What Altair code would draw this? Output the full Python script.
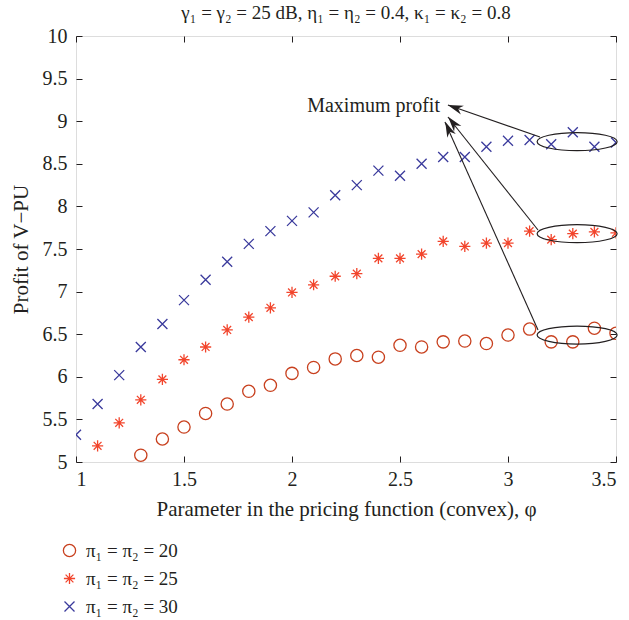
import altair as alt
import pandas as pd

# ---------------- data ----------------
phi_20 = [1.3, 1.4, 1.5, 1.6, 1.7, 1.8, 1.9, 2.0, 2.1, 2.2, 2.3, 2.4,
          2.5, 2.6, 2.7, 2.8, 2.9, 3.0, 3.1, 3.2, 3.3, 3.4, 3.5]
profit_20 = [5.08, 5.27, 5.41, 5.57, 5.68, 5.83, 5.90, 6.04, 6.11, 6.21, 6.25, 6.23,
             6.37, 6.35, 6.41, 6.42, 6.39, 6.49, 6.56, 6.41, 6.41, 6.57, 6.51]

phi_25 = [1.1, 1.2, 1.3, 1.4, 1.5, 1.6, 1.7, 1.8, 1.9, 2.0, 2.1, 2.2, 2.3,
          2.4, 2.5, 2.6, 2.7, 2.8, 2.9, 3.0, 3.1, 3.2, 3.3, 3.4, 3.5]
profit_25 = [5.19, 5.46, 5.73, 5.97, 6.20, 6.35, 6.55, 6.70, 6.81, 6.99, 7.08, 7.18, 7.21,
             7.39, 7.39, 7.44, 7.59, 7.53, 7.57, 7.57, 7.71, 7.61, 7.68, 7.70, 7.69]

phi_30 = [1.0, 1.1, 1.2, 1.3, 1.4, 1.5, 1.6, 1.7, 1.8, 1.9, 2.0, 2.1, 2.2,
          2.3, 2.4, 2.5, 2.6, 2.7, 2.8, 2.9, 3.0, 3.1, 3.2, 3.3, 3.4, 3.5]
profit_30 = [5.32, 5.68, 6.02, 6.35, 6.62, 6.90, 7.14, 7.35, 7.56, 7.71, 7.83, 7.93, 8.13,
             8.25, 8.42, 8.36, 8.50, 8.58, 8.58, 8.70, 8.77, 8.78, 8.73, 8.87, 8.70, 8.75]

series_names = ["π₁ = π₂ = 20", "π₁ = π₂ = 25", "π₁ = π₂ = 30"]
x_ticks = [1, 1.5, 2, 2.5, 3, 3.5]
y_ticks = [5, 5.5, 6, 6.5, 7, 7.5, 8, 8.5, 9, 9.5, 10]

# annotation: ellipses around the maxima, arrows to the label
ellipse_phi = [3.32, 3.32, 3.32]
ellipse_profit = [8.76, 7.68, 6.49]
arrow_start_phi = [3.148, 3.139, 3.139]
arrow_start_profit = [8.815, 7.723, 6.549]
arrow_tip_phi = [2.722, 2.722, 2.708]
arrow_tip_profit = [9.19, 9.049, 8.99]
head_phi = [2.755, 2.745, 2.724]
head_profit = [9.16, 8.98, 8.91]
head_angle = [289.2, 321.5, 335.9]
label_text = ["Maximum profit"]
label_phi = [2.685]
label_profit = [9.18]

# ---------------- styles ----------------
FONT = "Liberation Serif"
INK = "#231f20"
colors = ["#c8401e", "#f2452c", "#3a3a9c"]
ASTERISK = "M0,-1L0,1M-1,0L1,0M-0.7,-0.7L0.7,0.7M-0.7,0.7L0.7,-0.7"
CROSS = "M-1,-1L1,1M-1,1L1,-1"
shapes = ["circle", ASTERISK, CROSS]
ELLIPSE = ("M-1,0C-1,-0.124,-0.552,-0.225,0,-0.225C0.552,-0.225,1,-0.124,1,0"
           "C1,0.124,0.552,0.225,0,0.225C-0.552,0.225,-1,0.124,-1,0Z")
ARROW = "M0,-1L0.6,1L0,0.4L-0.6,1Z"

rows = []
for name, ph, pr in [(series_names[0], phi_20, profit_20),
                     (series_names[1], phi_25, profit_25),
                     (series_names[2], phi_30, profit_30)]:
    for a, b in zip(ph, pr):
        rows.append({"phi": a, "profit": b, "series": name})
df = pd.DataFrame(rows)

ell_df = pd.DataFrame({"phi": ellipse_phi, "profit": ellipse_profit})
arr_df = pd.DataFrame({"phi": arrow_start_phi, "profit": arrow_start_profit,
                       "phi2": arrow_tip_phi, "profit2": arrow_tip_profit})
head_df = pd.DataFrame({"phi": head_phi, "profit": head_profit, "ang": head_angle})
lab_df = pd.DataFrame({"phi": label_phi, "profit": label_profit, "t": label_text})

xscale = alt.Scale(domain=[1, 3.5], nice=False, zero=False)
yscale = alt.Scale(domain=[5, 10], nice=False, zero=False)

x_axis = alt.Axis(values=x_ticks, format="~g", offset=-6, domain=False, tickSize=6,
                  tickColor=INK, tickWidth=1, grid=False,
                  labelFont=FONT, labelFontSize=20, labelColor=INK, labelPadding=7,
                  title="Parameter in the pricing function (convex), φ",
                  titleFont=FONT, titleFontSize=21, titleFontWeight="normal",
                  titleColor=INK, titlePadding=9)
y_axis = alt.Axis(values=y_ticks, format="~g", offset=-6, domain=False, tickSize=6,
                  tickColor=INK, tickWidth=1, grid=False,
                  labelFont=FONT, labelFontSize=20, labelColor=INK, labelPadding=9,
                  title="Profit of V−PU",
                  titleFont=FONT, titleFontSize=21, titleFontWeight="normal",
                  titleColor=INK, titlePadding=11)
x_top = alt.Axis(values=x_ticks, orient="top", offset=-6, domain=False, tickSize=6,
                 tickColor=INK, labels=False, title=None, grid=False)
y_right = alt.Axis(values=y_ticks, orient="right", offset=-6, domain=False, tickSize=6,
                   tickColor=INK, labels=False, title=None, grid=False)

points = alt.Chart(df).mark_point(filled=False, strokeWidth=1.3, clip=True, opacity=1).encode(
    x=alt.X("phi:Q", scale=xscale, axis=x_axis),
    y=alt.Y("profit:Q", scale=yscale, axis=y_axis),
    color=alt.Color("series:N", scale=alt.Scale(domain=series_names, range=colors),
                    legend=alt.Legend(orient="none", legendX=-16, legendY=505, title=None,
                                      labelFont=FONT, labelFontSize=19, labelColor=INK,
                                      symbolSize=70, symbolStrokeWidth=1.3,
                                      rowPadding=8, labelOffset=7, padding=0)),
    shape=alt.Shape("series:N", scale=alt.Scale(domain=series_names, range=shapes)),
    size=alt.Size("series:N", scale=alt.Scale(domain=series_names, range=[150, 100, 80]),
                  legend=None),
)

ticks_layer = alt.Chart(df).mark_point(opacity=0).encode(
    x=alt.X("phi:Q", scale=xscale, axis=x_top),
    y=alt.Y("profit:Q", scale=yscale, axis=y_right),
)

ellipses = alt.Chart(ell_df).mark_point(shape=ELLIPSE, size=6400, filled=False,
                                        stroke=INK, strokeWidth=1.2, opacity=1).encode(
    x=alt.X("phi:Q", scale=xscale, axis=None),
    y=alt.Y("profit:Q", scale=yscale, axis=None),
)

arrows = alt.Chart(arr_df).mark_rule(color=INK, strokeWidth=1.1).encode(
    x=alt.X("phi:Q", scale=xscale, axis=None),
    y=alt.Y("profit:Q", scale=yscale, axis=None),
    x2="phi2:Q",
    y2="profit2:Q",
)

heads = alt.Chart(head_df).mark_point(shape=ARROW, size=240, filled=True,
                                      color=INK, opacity=1).encode(
    x=alt.X("phi:Q", scale=xscale, axis=None),
    y=alt.Y("profit:Q", scale=yscale, axis=None),
    angle=alt.Angle("ang:Q", scale=None),
)

label = alt.Chart(lab_df).mark_text(align="right", baseline="middle", font=FONT,
                                    fontSize=20, color=INK).encode(
    x=alt.X("phi:Q", scale=xscale, axis=None),
    y=alt.Y("profit:Q", scale=yscale, axis=None),
    text="t:N",
)

chart = alt.layer(points, ticks_layer, ellipses, arrows, heads, label).resolve_axis(
    x="independent", y="independent"
).properties(
    width=540, height=426,
    padding={"left": 76, "top": 36, "right": 13, "bottom": 158},
    autosize=alt.AutoSizeParams(type="none"),
    title=alt.TitleParams("γ₁ = γ₂ = 25 dB, η₁ = η₂ = 0.4, κ₁ = κ₂ = 0.8",
                          font=FONT, fontSize=19, fontWeight="normal", color=INK,
                          anchor="middle", offset=3),
).configure_view(stroke=INK, strokeWidth=1.2).configure(background="white")

chart.save("out.html", embed_options={"renderer": "svg", "actions": False})
